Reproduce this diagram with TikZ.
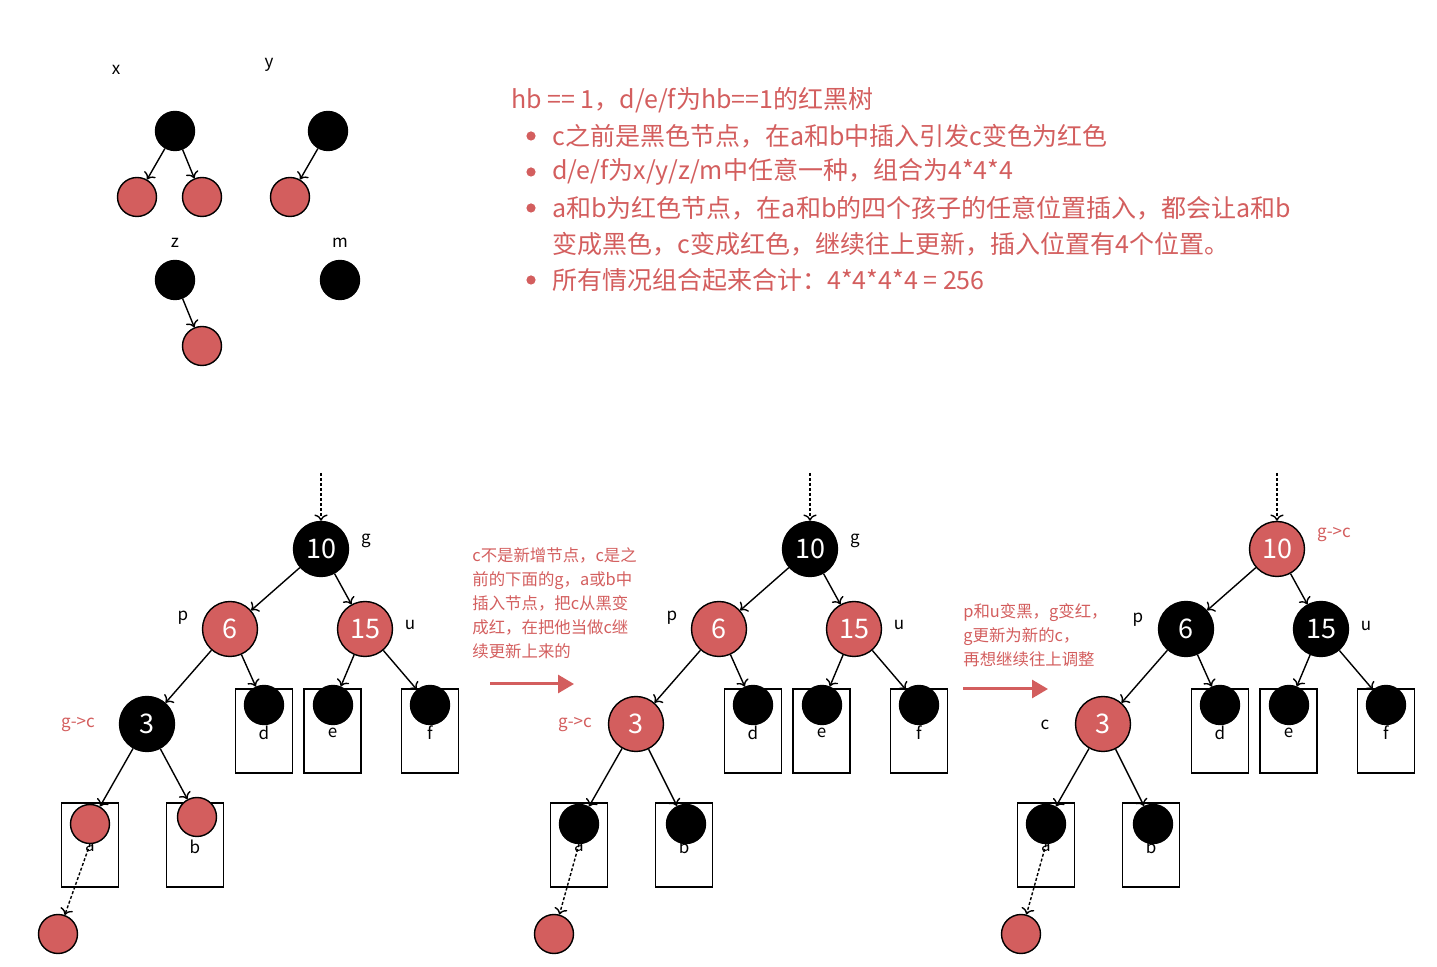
\documentclass[tikz,border=0pt]{standalone}
\usepackage{fontspec}
\setmainfont{Noto Sans CJK SC}
\usetikzlibrary{arrows.meta}
\definecolor{rbred}{HTML}{D35E5E}

\begin{document}
\begin{tikzpicture}[x=0.5pt,y=-0.5pt,
    bnode/.style={circle,draw,line width=0.7pt,fill=black,text=white,minimum size=27.5pt,inner sep=0pt,font=\fontsize{13.5}{16}\selectfont},
    bsmall/.style={circle,draw,line width=0.7pt,fill=black,minimum size=19.5pt,inner sep=0pt},
    rsmall/.style={bsmall,fill=rbred},
    leafbox/.style={draw,line width=0.7pt,minimum width=28.5pt,minimum height=42pt,inner sep=0pt},
    lbl/.style={font=\fontsize{8.5}{10}\selectfont},
    rlbl/.style={text=rbred,font=\fontsize{8.5}{10}\selectfont},
    note/.style={text=rbred,anchor=west,inner sep=0pt,font=\fontsize{12.5}{15}\selectfont},
    smallnote/.style={text=rbred,anchor=north west,align=left,inner sep=0pt,font=\fontsize{8.2}{12}\selectfont},
    edge/.style={->,line width=0.7pt},
    dotedge/.style={->,line width=0.7pt,dash pattern=on 1.5pt off 1pt},
    bigarrow/.style={-{Triangle[length=8pt,width=9pt]},line width=1.5pt,draw=rbred}]
\useasboundingbox (0,0) rectangle (1437,967);

% the four kinds of subtrees with hb == 1
\node[lbl] (lx) at (116,70) {x};
\node[lbl] (ly) at (269,65) {y};
\node[lbl] (lz) at (175,243) {z};
\node[lbl] (lm) at (340,243) {m};
\node[bsmall] (x0) at (175,131) {};
\node[rsmall] (x1) at (137,197) {};
\node[rsmall] (x2) at (202,197) {};
\node[bsmall] (y0) at (328,131) {};
\node[rsmall] (y1) at (290,197) {};
\node[bsmall] (z0) at (175,280) {};
\node[rsmall] (z1) at (202,346) {};
\node[bsmall] (m0) at (340,280) {};
\draw[edge] (x0) -- (x1);
\draw[edge] (x0) -- (x2);
\draw[edge] (y0) -- (y1);
\draw[edge] (z0) -- (z1);

% explanation
\node[note] (t0) at (511,100) {hb == 1，d/e/f为hb==1的红黑树};
\node[note] (t1) at (552,136) {c之前是黑色节点，在a和b中插入引发c变色为红色};
\node[note] (t2) at (552,172) {d/e/f为x/y/z/m中任意一种，组合为4*4*4};
\node[note] (t3) at (552,208) {a和b为红色节点，在a和b的四个孩子的任意位置插入，都会让a和b};
\node[note] (t4) at (552,244) {变成黑色，c变成红色，继续往上更新，插入位置有4个位置。};
\node[note] (t5) at (552,280) {所有情况组合起来合计：4*4*4*4 = 256};
\foreach \y in {136,172,208,280}
  \fill[rbred] (531,\y) circle (2.3pt);

% three stages of the update
\foreach \t/\dx/\cg/\cpu/\cc/\cab/\by/\nx in {1/0/black/rbred/black/rbred/817/58,
    2/489/black/rbred/rbred/black/824/65, 3/956/rbred/black/rbred/black/824/65}{
  \begin{scope}[shift={(\dx,0)}]
  \coordinate (top\t) at (321,473);
  \node[bnode,fill=\cg] (g\t) at (321,549) {10};
  \node[bnode,fill=\cpu] (p\t) at (230,629) {6};
  \node[bnode,fill=\cpu] (u\t) at (365,629) {15};
  \node[bnode,fill=\cc] (c\t) at (147,724) {3};
  \node[leafbox] (bd\t) at (264,731) {};
  \node[leafbox] (be\t) at (332.5,731) {};
  \node[leafbox] (bf\t) at (430,731) {};
  \node[leafbox] (ba\t) at (90,845) {};
  \node[leafbox] (bb\t) at (195,845) {};
  \node[lbl] (ld\t) at (264,733) {d};
  \node[lbl] (le\t) at (332.5,733) {e};
  \node[lbl] (lf\t) at (430,733) {f};
  \node[lbl] (la\t) at (90,847) {a};
  \node[lbl] (lb\t) at (195,847) {b};
  \node[bsmall] (d\t) at (264,705) {};
  \node[bsmall] (e\t) at (333,705) {};
  \node[bsmall] (f\t) at (430,705) {};
  \node[bsmall,fill=\cab] (a\t) at (90,824) {};
  \node[bsmall,fill=\cab] (b\t) at (197,\by) {};
  \node[rsmall] (n\t) at (\nx,934) {};
  \draw[dotedge] (top\t) -- (g\t);
  \draw[edge] (g\t) -- (p\t);
  \draw[edge] (g\t) -- (u\t);
  \draw[edge] (p\t) -- (c\t);
  \draw[edge] (p\t) -- (d\t);
  \draw[edge] (u\t) -- (e\t);
  \draw[edge] (u\t) -- (f\t);
  \draw[edge] (c\t) -- (a\t);
  \draw[edge] (c\t) -- (b\t);
  \draw[dotedge] (a\t.south) -- (n\t);
  \end{scope}
}

% node names
\node[lbl] (lg1) at (366,541) {g};
\node[lbl] (lp1) at (183,618) {p};
\node[lbl] (lu1) at (410,625) {u};
\node[rlbl] (lc1) at (78,725) {g->c};
\node[lbl] (lg2) at (855,541) {g};
\node[lbl] (lp2) at (672,618) {p};
\node[lbl] (lu2) at (899,625) {u};
\node[rlbl] (lc2) at (575,725) {g->c};
\node[rlbl] (lg3) at (1334,535) {g->c};
\node[lbl] (lp3) at (1138,620) {p};
\node[lbl] (lu3) at (1366,626) {u};
\node[lbl] (lc3) at (1045,725) {c};

% steps
\node[smallnote] (s1) at (472,547) {c不是新增节点，c是之\\前的下面的g，a或b中\\插入节点，把c从黑变\\成红，在把他当做c继\\续更新上来的};
\coordinate (s1a) at (490,684);
\coordinate (s1b) at (574,684);
\draw[bigarrow] (s1a) -- (s1b);
\node[smallnote] (s2) at (963,603) {p和u变黑，g变红，\\g更新为新的c，\\再想继续往上调整};
\coordinate (s2a) at (963,689);
\coordinate (s2b) at (1048,689);
\draw[bigarrow] (s2a) -- (s2b);
\end{tikzpicture}
\end{document}
